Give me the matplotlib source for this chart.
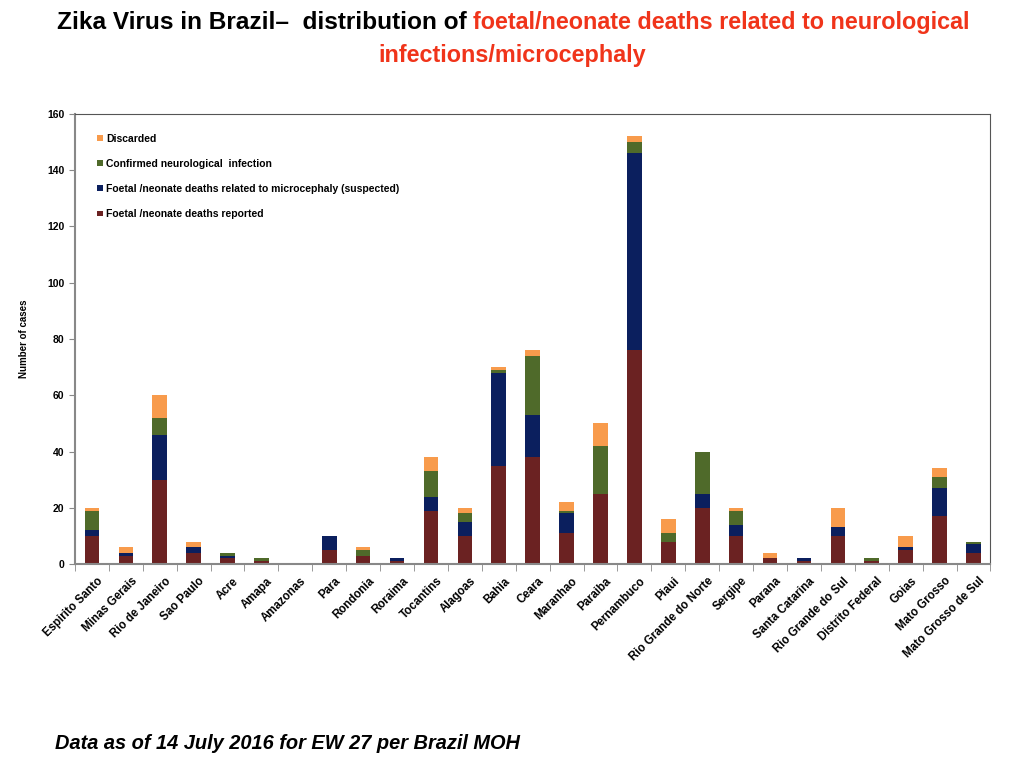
import matplotlib
matplotlib.use("Agg")
import matplotlib.pyplot as plt
import matplotlib.transforms as mtransforms
import numpy as np

plt.rcParams['font.family'] = ['Liberation Sans', 'DejaVu Sans']

states = ["Espirito Santo", "Minas Gerais", "Rio de Janeiro", "Sao Paulo", "Acre", "Amapa",
          "Amazonas", "Para", "Rondonia", "Roraima", "Tocantins", "Alagoas", "Bahia", "Ceara",
          "Maranhao", "Paraiba", "Pernambuco", "Piaui", "Rio Grande do Norte", "Sergipe",
          "Parana", "Santa Catarina", "Rio Grande do Sul", "Distrito Federal", "Goias",
          "Mato Grosso", "Mato Grosso de Sul"]
reported  = [10, 3, 30, 4, 2, 1, 0, 5, 3, 1, 19, 10, 35, 38, 11, 25, 76, 8, 20, 10, 2, 1, 10, 1, 5, 17, 4]
suspected = [2, 1, 16, 2, 1, 0, 0, 5, 0, 1, 5, 5, 33, 15, 7, 0, 70, 0, 5, 4, 0, 1, 3, 0, 1, 10, 3]
confirmed = [7, 0, 6, 0, 1, 1, 0, 0, 2, 0, 9, 3, 1, 21, 1, 17, 4, 3, 15, 5, 0, 0, 0, 1, 0, 4, 1]
discarded = [1, 2, 8, 2, 0, 0, 0, 0, 1, 0, 5, 2, 1, 2, 3, 8, 2, 5, 0, 1, 2, 0, 7, 0, 4, 3, 0]

series_labels = ["Foetal /neonate deaths reported",
                 "Foetal /neonate deaths related to microcephaly (suspected)",
                 "Confirmed neurological  infection",
                 "Discarded"]
colors = ["#6b2222", "#0b1f5e", "#4f6a2a", "#f89b4c"]

fig = plt.figure(figsize=(10.24, 7.68), dpi=100)
ax = fig.add_axes([0.0732, 0.2656, 0.894, 0.586])

x = np.arange(len(states))
bottom = np.zeros(len(states))
handles = []
for vals, lab, col in zip([reported, suspected, confirmed, discarded], series_labels, colors):
    h = ax.bar(x, vals, width=0.43, bottom=bottom, color=col, label=lab, edgecolor='none')
    handles.append(h)
    bottom += np.array(vals)

ax.set_xlim(-0.5, len(states) - 0.5)
ax.set_ylim(0, 160)
ax.set_yticks(np.arange(0, 161, 20))
ax.tick_params(axis='y', labelsize=7.5, length=4, direction='out', color='#888888')
for t in ax.get_yticklabels():
    t.set_fontweight('bold')

ax.set_xticks(x)
ax.set_xticklabels(states, rotation=45, ha='right', rotation_mode='anchor', fontsize=8.3, fontweight='bold')
ax.tick_params(axis='x', length=0, pad=8)
offset = mtransforms.ScaledTranslation(5 / 100, 0, fig.dpi_scale_trans)
for lbl in ax.get_xticklabels():
    lbl.set_transform(lbl.get_transform() + offset)
ax.set_xticks(np.arange(-0.5, len(states), 1), minor=True)
ax.tick_params(axis='x', which='minor', length=5, direction='out', color='#888888')

for s in ['left', 'bottom']:
    ax.spines[s].set_color('#888888')
    ax.spines[s].set_linewidth(1.5)
for s in ['top', 'right']:
    ax.spines[s].set_color('#555555')
    ax.spines[s].set_linewidth(0.8)

ax.set_ylabel("Number of cases", fontsize=7, fontweight='bold')
ax.yaxis.set_label_coords(-0.05, 0.5)

leg = ax.legend(handles[::-1], series_labels[::-1], loc='upper left', frameon=False,
                prop={'size': 7.5, 'weight': 'bold'}, handlelength=0.5, handleheight=0.5,
                handletextpad=0.35, labelspacing=1.45, borderaxespad=0.0,
                bbox_to_anchor=(0.02, 0.965))

fig.text(0.456, 0.971, "Zika Virus in Brazil\u2013  distribution of", ha='right', va='center',
         fontsize=17.6, fontweight='bold', color='black')
fig.text(0.462, 0.971, "foetal/neonate deaths related to neurological", ha='left', va='center',
         fontsize=16.8, fontweight='bold', color='#f0341a')
fig.text(0.5, 0.928, "infections/microcephaly", ha='center', va='center',
         fontsize=16.8, fontweight='bold', color='#f0341a')

fig.text(0.054, 0.032, "Data as of 14 July 2016 for EW 27 per Brazil MOH", ha='left', va='center',
         fontsize=14.4, fontweight='bold', style='italic', color='black')

fig.savefig("out.png", dpi=100)
